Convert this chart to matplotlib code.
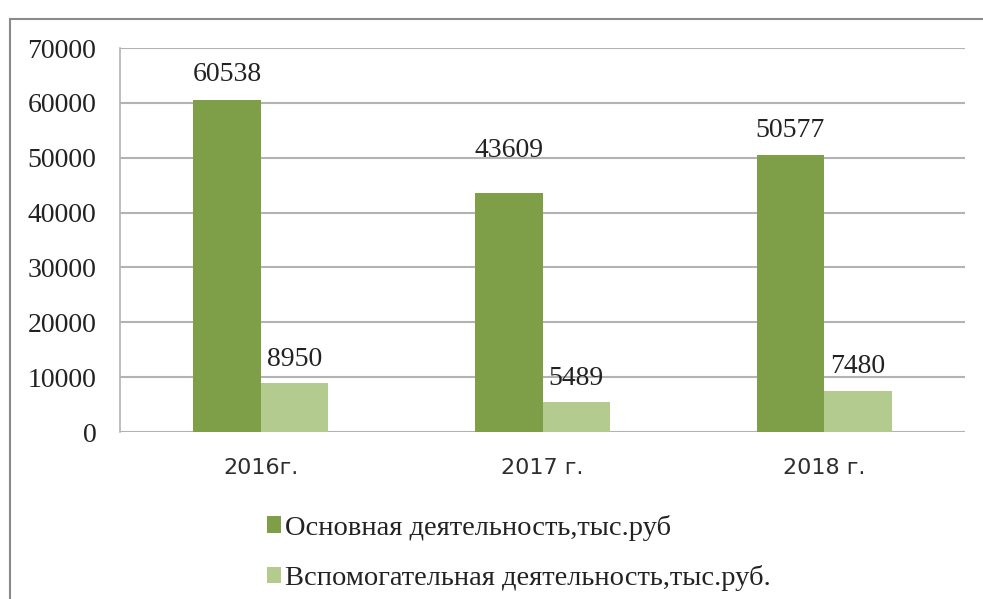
import matplotlib
matplotlib.use("Agg")
import matplotlib.pyplot as plt
import numpy as np
from matplotlib.patches import Rectangle

categories = ["2016г.", "2017 г.", "2018 г."]
main_activity = [60538, 43609, 50577]
aux_activity = [8950, 5489, 7480]
series_names = ["Основная деятельность,тыс.руб", "Вспомогательная деятельность,тыс.руб."]
y_ticks = [0, 10000, 20000, 30000, 40000, 50000, 60000, 70000]

main_color = "#7E9E47"
aux_color = "#B4CB8F"

plt.rcParams["font.family"] = ["Liberation Serif", "DejaVu Serif"]

W, H = 983, 599
fig = plt.figure(figsize=(W / 100, H / 100), dpi=100)

# outer chart frame (runs off the right and bottom edges)
fig.add_artist(Rectangle((10 / W, -0.05), 1.1, 1 - 19 / H + 0.05,
                         transform=fig.transFigure, fill=False,
                         edgecolor="#8a8a8a", linewidth=1.5))

ax = fig.add_axes([120 / W, 1 - 432 / H, (965 - 120) / W, (432 - 48) / H])

x = np.arange(len(categories))
bw = 0.24
b1 = ax.bar(x - bw / 2, main_activity, bw, color=main_color, label=series_names[0])
b2 = ax.bar(x + bw / 2, aux_activity, bw, color=aux_color, label=series_names[1])

ax.set_ylim(0, 70000)
ax.set_xlim(-0.5, len(categories) - 0.5)
ax.set_yticks(y_ticks)
ax.set_yticklabels([str(v) for v in y_ticks], fontsize=20, color="#222222")
ax.set_xticks(x)
ax.set_xticklabels(categories, family=["DejaVu Sans"], fontsize=16, color="#2e2e2e")
ax.tick_params(axis="y", length=0, pad=17)
ax.tick_params(axis="x", length=0, pad=19)

ax.grid(axis="y", color="#b3b3b3", linewidth=1.5)
ax.set_axisbelow(True)
for s in ["top", "right", "bottom"]:
    ax.spines[s].set_visible(False)
ax.spines["left"].set_color("#b3b3b3")
ax.spines["left"].set_linewidth(1.2)

# value labels above each bar
main_offsets = [13.5, 26, 12.5]
aux_offsets = [12.5, 12.5, 13]
for rect, v, off in zip(b1, main_activity, main_offsets):
    ax.annotate(str(v), (rect.get_x() + rect.get_width() / 2, v),
                xytext=(0, off), textcoords="offset points", ha="center",
                va="baseline", fontsize=20, color="#222222")
for rect, v, off in zip(b2, aux_activity, aux_offsets):
    ax.annotate(str(v), (rect.get_x() + rect.get_width() / 2, v),
                xytext=(0, off), textcoords="offset points", ha="center",
                va="baseline", fontsize=20, color="#222222")

leg = fig.legend(handles=[b1, b2], labels=series_names, loc="upper left",
                 bbox_to_anchor=(241 / W, 1 - 489 / H), frameon=False,
                 prop={"size": 20.5}, handlelength=0.5, handleheight=0.5,
                 handletextpad=0.15, labelspacing=0.85)
for t in leg.get_texts():
    t.set_color("#222222")

fig.savefig("out.png", dpi=100)
